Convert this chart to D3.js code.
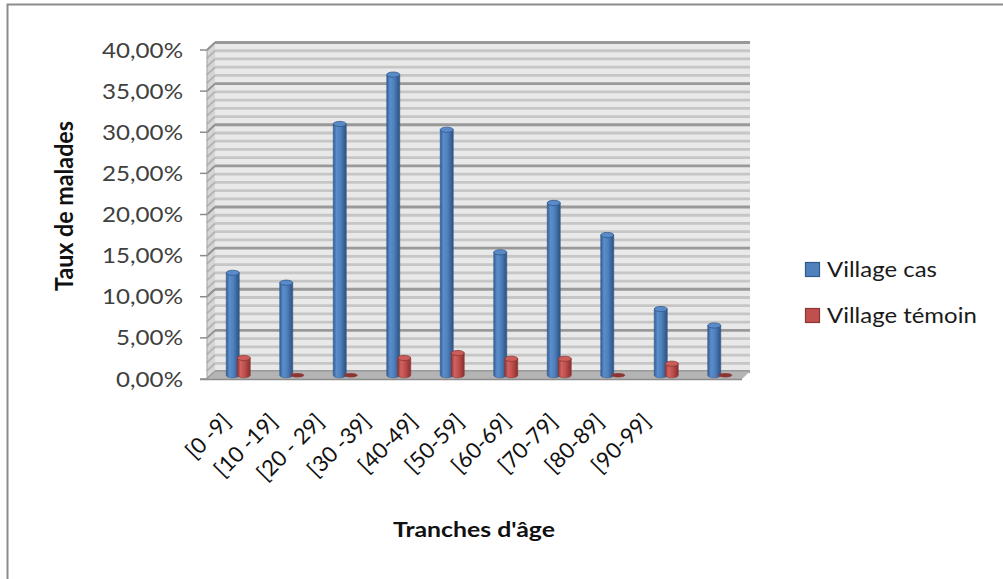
<!DOCTYPE html>
<html><head><meta charset="utf-8">
<script src="https://cdn.jsdelivr.net/npm/d3@7"></script>
<style>body{margin:0;background:#fff}svg{display:block}</style>
</head><body>
<svg id="c" width="1003" height="579"></svg>
<script>
// ---- data ----
const categories = ["[0 -9]","[10 -19]","[20 - 29]","[30 -39]","[40-49]","[50-59]","[60-69]","[70-79]","[80-89]","[90-99]"];
const seriesNames = ["Village cas","Village témoin"];
const villageCas = [0.1245,0.1125,0.3055,0.3655,0.2985,0.1495,0.2095,0.1705,0.0805,0.0605];
const villageTemoin = [0.021,0,0,0.021,0.027,0.020,0.020,0,0.014,0];
const yTickValues = [0,0.05,0.10,0.15,0.20,0.25,0.30,0.35,0.40];
const yTitle = "Taux de malades";
const xTitle = "Tranches d'âge";

// ---- setup ----
const svg = d3.select("#c");
const FONT = "Lato, 'Open Sans', sans-serif";
const DX = 8, DY = -7.5;
const y = d3.scaleLinear().domain([0,0.40]).range([379,50]);
const x = d3.scaleBand().domain(categories).range([207,742]);
const labelX = d3.scalePoint().domain(categories).range([232,652]);
const y0 = y(0), yTop = y(0.40);
const xL = x.range()[0], xR = x.range()[1];
const locale = d3.formatLocale({decimal:",",thousands:" ",grouping:[3],currency:["","€"],percent:"%"});
const fmt = locale.format(".2%");

// gradients
const defs = svg.append("defs");
function grad(id, stops){
  const g = defs.append("linearGradient").attr("id",id).attr("x1","0%").attr("x2","100%").attr("y1","0%").attr("y2","0%");
  stops.forEach(s=>g.append("stop").attr("offset",s[0]).attr("stop-color",s[1]));
}
grad("gBlue",[["0%","#335e92"],["25%","#5b8dcc"],["55%","#4f81bd"],["100%","#2c5182"]]);
grad("gRed",[["0%","#8e3533"],["25%","#d2625f"],["55%","#c0504d"],["100%","#873030"]]);

// border
svg.append("path").attr("d","M7.5,579V4.5H1003").attr("fill","none").attr("stroke","#8c8c8c").attr("stroke-width",2);

// back wall
svg.append("rect").attr("x",xL+DX).attr("y",yTop+DY).attr("width",xR-xL).attr("height",y0-yTop)
  .attr("fill","#e9e9e9");
const gridVals = d3.range(0,41).map(i=>i/100);
svg.append("g").selectAll("line").data(gridVals).join("line")
  .attr("x1",xL+DX).attr("x2",xR+DX)
  .attr("y1",d=>y(d)+DY).attr("y2",d=>y(d)+DY)
  .attr("stroke",(d,i)=>i%5===0?"#999999":"#c6c6c6")
  .attr("stroke-width",2.8);

// side wall
svg.append("polygon").attr("points",[[xL,y0],[xL,yTop],[xL+DX,yTop+DY],[xL+DX,y0+DY]].map(p=>p.join(",")).join(" "))
  .attr("fill","#d6d6d6");
svg.append("g").selectAll("line").data(gridVals).join("line")
  .attr("x1",xL).attr("x2",xL+DX)
  .attr("y1",d=>y(d)).attr("y2",d=>y(d)+DY)
  .attr("stroke",(d,i)=>i%5===0?"#8f8f8f":"#b5b5b5").attr("stroke-width",2);

// floor
svg.append("polygon").attr("points",[[xL,y0],[xR,y0],[xR+DX,y0+DY],[xL+DX,y0+DY]].map(p=>p.join(",")).join(" "))
  .attr("fill","#b4b4b4");
svg.append("line").attr("x1",200).attr("x2",xR).attr("y1",y0+0.5).attr("y2",y0+0.5).attr("stroke","#8c8c8c").attr("stroke-width",1.5);

// y axis
svg.append("line").attr("x1",xL).attr("x2",xL).attr("y1",yTop).attr("y2",y0).attr("stroke","#a0a0a0").attr("stroke-width",1);
svg.append("g").selectAll("line").data(yTickValues).join("line")
  .attr("x1",200).attr("x2",xL).attr("y1",d=>y(d)).attr("y2",d=>y(d))
  .attr("stroke","#8c8c8c").attr("stroke-width",1.5);

// y tick labels
const tl = svg.append("g").selectAll("g").data(yTickValues).join("g");
tl.append("text").text(d=>fmt(d)).attr("text-anchor","end").attr("dy","0.36em")
  .attr("font-family",FONT).attr("font-size",21).attr("fill","#404040");
const sxTick = 81 / tl.filter(d=>d===0.40).select("text").node().getComputedTextLength();
tl.attr("transform",d=>`translate(183,${y(d)}) scale(${sxTick},1)`);

// bars
function cyl(cx, v, w, fillId, topFill, stroke){
  const rx=w/2, ry=2.6;
  const yt = y(v)+DY/2, yb = y(0)+DY/2;
  const g = svg.append("g");
  if (v>0){
    g.append("path").attr("d",`M${cx-rx},${yt}L${cx-rx},${yb}A${rx},${ry} 0 0 0 ${cx+rx},${yb}L${cx+rx},${yt}Z`)
      .attr("fill",`url(#${fillId})`).attr("stroke",stroke).attr("stroke-width",0.6);
  }
  g.append("ellipse").attr("cx",cx).attr("cy",yt).attr("rx",rx).attr("ry",v>0?ry:1.8)
    .attr("fill",v>0?topFill:stroke).attr("stroke",stroke).attr("stroke-width",0.8);
}
categories.forEach((c,i)=>{
  const mid = x(c)+x.bandwidth()/2+DX/2;
  cyl(mid-5, villageCas[i], 13, "gBlue", "#5a8bc8", "#30598c");
  cyl(mid+6, villageTemoin[i], 13, "gRed", "#cc5d5a", "#8c3634");
});

// x labels
svg.append("g").selectAll("text").data(categories).join("text")
  .text(d=>d).attr("text-anchor","end")
  .attr("transform",d=>`translate(${labelX(d)},423) rotate(-45)`)
  .attr("font-family",FONT).attr("font-size",22).attr("fill","#111");

// axis titles
const xt = svg.append("g");
const xtt = xt.append("text").text(xTitle).attr("text-anchor","middle").attr("font-family",FONT)
  .attr("font-weight","bold").attr("font-size",21).attr("fill","#111");
const sxX = 162/xtt.node().getComputedTextLength();
xt.attr("transform",`translate(474,537) scale(${sxX},1)`);

const yt = svg.append("g");
const ytt = yt.append("text").text(yTitle).attr("text-anchor","middle").attr("font-family",FONT)
  .attr("font-weight","bold").attr("font-size",21).attr("fill","#111");
const syY = 170/ytt.node().getComputedTextLength();
yt.attr("transform",`translate(73,206) rotate(-90) scale(${syY},1.15)`);

// legend
const legColors = [["#4f81bd","#30598c"],["#c0504d","#8c3634"]];
const lg = svg.append("g").selectAll("g").data(seriesNames).join("g")
  .attr("transform",(d,i)=>`translate(805,${262+i*46})`);
lg.append("rect").attr("width",14).attr("height",14).attr("x",0.5).attr("y",0.5)
  .attr("fill",(d,i)=>legColors[i][0]).attr("stroke",(d,i)=>legColors[i][1]).attr("stroke-width",1.2);
const lgt = lg.append("g").attr("transform","translate(22,15)");
lgt.append("text").text(d=>d).attr("font-family",FONT).attr("font-size",21).attr("fill","#1a1a1a");
const sxL = 110/lgt.filter((d,i)=>i===0).select("text").node().getComputedTextLength();
lgt.attr("transform",`translate(22,15) scale(${sxL},1)`);
</script>
</body></html>
